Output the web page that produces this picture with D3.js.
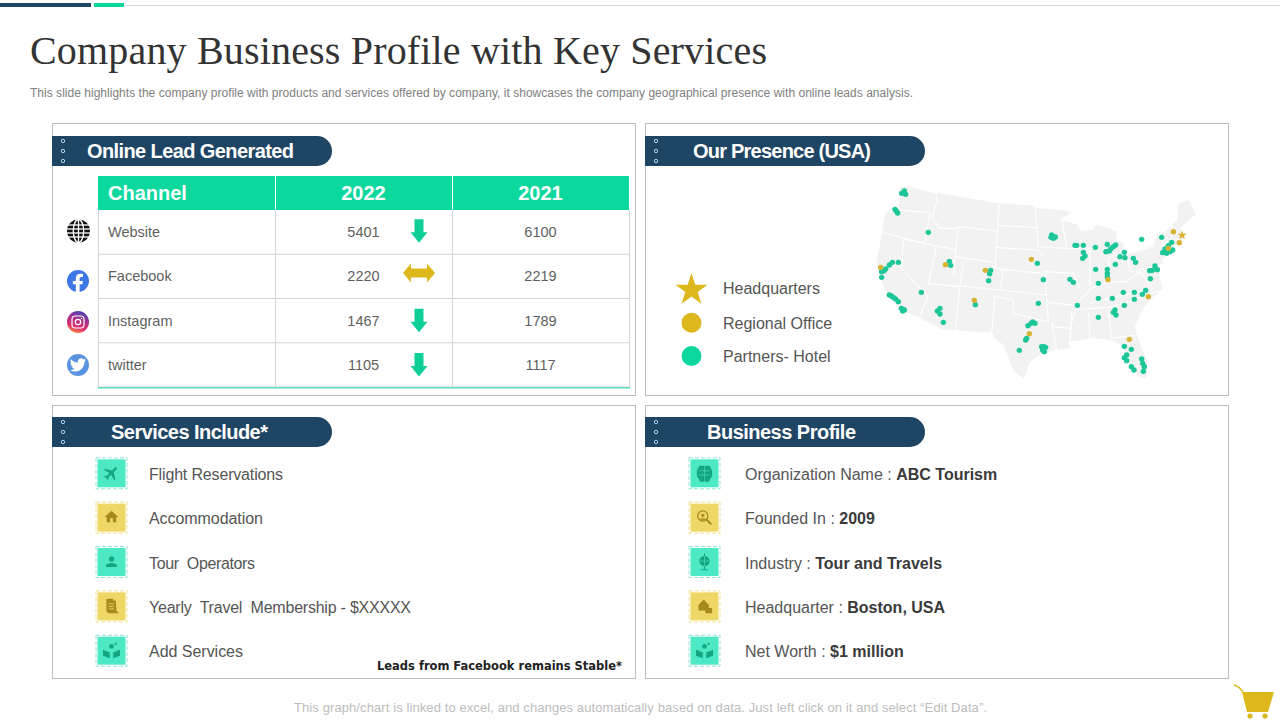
<!DOCTYPE html>
<html><head><meta charset="utf-8">
<script src="https://cdn.jsdelivr.net/npm/d3@7"></script>
<style>html,body{margin:0;background:#fff}svg{display:block}text{white-space:pre}</style>
</head><body><div id="c"></div>
<script>
const title="Company Business Profile with Key Services";
const subtitle="This slide highlights the company profile with products and services offered by company, it showcases the company geographical presence with online leads analysis.";
const footer="This graph/chart is linked to excel, and changes automatically based on data. Just left click on it and select “Edit Data”.";
const note="Leads from Facebook remains Stable*";
const tableHeads=["Channel","2022","2021"];
const channels=["Website","Facebook","Instagram","twitter"];
const leads2022=[5401,2220,1467,1105];
const leads2021=[6100,2219,1789,1117];
const trends=["down","flat","down","down"];
const services=["Flight Reservations","Accommodation","Tour  Operators","Yearly  Travel  Membership - $XXXXX","Add Services"];
const profileLabels=["Organization Name : ","Founded In : ","Industry : ","Headquarter : ","Net Worth : "];
const profileValues=["ABC Tourism","2009","Tour and Travels","Boston, USA","$1 million"];
const legendLabels=["Headquarters","Regional Office","Partners- Hotel"];
// map read on a 1050 x 645 grid laid over the reference map
const usOutline=[[118,38],[135,33],[225,55],[240,55],[415,85],[525,92],[530,100],[600,105],[635,112],[600,135],[650,148],[665,168],[700,165],[708,150],[745,158],[770,172],[768,195],[790,205],[793,232],[803,237],[880,210],[893,178],[915,170],[935,150],[952,138],[955,85],[985,75],[1008,118],[975,145],[962,160],[965,175],[975,185],[955,205],[935,222],[925,240],[910,250],[905,268],[893,270],[900,310],[908,340],[880,365],[850,400],[825,450],[830,480],[860,555],[860,610],[840,610],[815,575],[785,510],[750,495],[700,490],[625,500],[630,520],[590,525],[545,535],[510,562],[490,612],[460,585],[430,510],[405,490],[395,470],[340,470],[285,465],[245,462],[172,425],[118,403],[85,365],[62,315],[50,262],[65,180],[75,115],[100,95],[118,105]];
const stateLines=[
[[75,112],[110,105],[205,112]],[[228,55],[232,80],[215,125],[240,160],[295,160]],[[210,110],[195,205]],[[62,172],[195,205]],[[130,192],[290,225]],
[[295,155],[280,300]],[[295,155],[410,168]],[[285,245],[400,262]],[[418,85],[405,275]],[[415,152],[535,158]],[[410,218],[535,225],[550,245]],[[400,275],[430,283],[550,295]],
[[310,262],[300,332],[420,345],[430,285]],[[420,345],[560,360]],[[525,92],[535,215],[620,220]],[[550,290],[640,295],[660,340]],[[205,325],[300,335]],[[130,195],[125,280],[205,365],[180,420]],[[230,210],[205,325]],
[[300,335],[285,465]],[[405,360],[395,470]],[[405,365],[460,375],[460,415],[565,440]],[[555,295],[565,440]],[[565,382],[650,392]],[[650,392],[630,460]],[[575,455],[635,460]],[[575,440],[590,525]],
[[635,410],[630,500]],[[685,410],[690,490]],[[745,400],[755,490],[825,480]],[[640,405],[760,395],[905,345]],[[690,385],[880,340]],[[660,375],[695,340],[750,320],[800,320],[840,290]],
[[690,225],[690,330]],[[745,250],[750,320]],[[620,220],[695,220]],[[605,135],[620,220]],[[745,245],[800,235]],[[800,235],[810,290],[905,270]],[[805,235],[880,215]],[[840,290],[875,335]],[[905,215],[960,190]],[[915,170],[905,215]],[[935,150],[935,205]]];
const partnerX=[125,133,137,105,109,113,205,115,97,88,77,72,65,65,88,94,100,107,115,124,130,128,133,184,240,232,240,250,268,272,346,392,389,386,532,550,535,504,513,518,525,497,500,478,545,552,557,548,553,575,580,586,573,645,650,670,670,675,668,630,640,706,742,767,760,752,748,738,793,780,795,820,827,766,707,742,742,742,715,715,757,790,823,823,793,652,847,857,869,877,885,892,871,845,905,935,908,915,920,930,938,915,925,765,760,768,715,793,814,793,800,800,845,848,853,850,814,822];
const partnerY=[55,48,58,103,108,114,172,262,262,270,282,287,290,307,360,363,367,372,380,400,403,408,405,352,400,408,417,442,259,271,389,286,296,317,265,314,385,452,445,441,445,495,490,526,515,515,517,525,530,180,190,186,187,211,211,211,232,243,250,313,322,217,208,210,215,222,228,230,232,245,248,250,262,268,283,283,295,305,325,370,370,352,352,373,391,391,358,346,287,286,273,284,311,193,187,202,233,230,235,230,225,222,212,405,412,420,427,514,523,548,540,557,552,565,575,589,575,585];
const officeX=[62,256,343,376,514,508,744,865,808,925,940,958];
const officeY=[277,269,376,286,253,476,314,365,493,220,170,203];
const hqX=[966],hqY=[181];

const TEAL="#0cd89e",DOT="#1cc698",GOLD="#dcb81c",DOTGOLD="#d8b232",NAVY="#1f4564",INK="#444",SANS="'Liberation Sans',Arial,sans-serif";
const svg=d3.select("#c").append("svg").attr("width",1280).attr("height",720);
const defs=svg.append("defs");
const ig=defs.append("linearGradient").attr("id","ig").attr("x1",0).attr("y1",1).attr("x2",0.3).attr("y2",0);
[["0","#f9b233"],["35%","#e1306c"],["75%","#a1308f"],["100%","#5b3fae"]].forEach(d=>ig.append("stop").attr("offset",d[0]).attr("stop-color",d[1]));

function txt(p,x,y,s,o={}){const t=p.append("text").attr("x",x).attr("y",y).text(s)
 .attr("font-family",o.font||SANS).attr("font-size",o.size||16).attr("fill",o.fill||INK)
 .attr("font-weight",o.weight||400).attr("text-anchor",o.anchor||"start");
 if(o.len)t.attr("textLength",o.len).attr("lengthAdjust","spacing");return t;}

// top rule
svg.append("rect").attr("x",124).attr("y",5).attr("width",1156).attr("height",1).attr("fill","#d9d9d9");
svg.append("rect").attr("x",0).attr("y",3).attr("width",91).attr("height",4).attr("fill",NAVY);
svg.append("rect").attr("x",94).attr("y",3).attr("width",30).attr("height",4).attr("fill",TEAL);
txt(svg,30,64,title,{font:"'Liberation Serif',serif",size:40,fill:"#333",len:737});
txt(svg,30,97,subtitle,{size:12,fill:"#808080",len:883});
txt(svg,294,712,footer,{size:13,fill:"#bdbdbd",len:693});

// panels
const panels=[{x:52,y:123,h:272,t:"Online Lead Generated",tx:87,tl:207},{x:645,y:123,h:272,t:"Our Presence (USA)",tx:693,tl:178},{x:52,y:405,h:273,t:"Services Include*",tx:111,tl:157},{x:645,y:405,h:273,t:"Business Profile",tx:707,tl:149}];
panels.forEach((p,k)=>{
 svg.append("rect").attr("x",p.x+.5).attr("y",p.y+.5).attr("width",583).attr("height",p.h).attr("fill","#fff").attr("stroke","#bdbdbd");
 const py=p.y+(k<2?13:12);
 svg.append("path").attr("d",`M${p.x} ${py}H${p.x+265}a15 15 0 0 1 0 30H${p.x}Z`).attr("fill",NAVY);
 [5,15,25].forEach(d=>svg.append("circle").attr("cx",p.x+11).attr("cy",py+d).attr("r",1.7).attr("fill","none").attr("stroke","#bfe0ee").attr("stroke-width",.9));
 txt(svg,p.tx,py+22,p.t,{size:20,weight:700,fill:"#fff",len:p.tl});
});

// table
const colX=d3.scaleBand().domain(tableHeads).range([98,629]);
const rowY=d3.scaleBand().domain(channels).range([210,387]);
svg.append("rect").attr("x",98).attr("y",176).attr("width",531).attr("height",34).attr("fill",TEAL);
tableHeads.forEach((h,i)=>{
 if(i==0) txt(svg,108,200,h,{size:20,weight:700,fill:"#fff"});
 else txt(svg,colX(h)+colX.bandwidth()/2,200,h,{size:20,weight:700,fill:"#fff",anchor:"middle"});
});
const grid=svg.append("g").attr("stroke","#d4d4d4");
channels.forEach(c=>grid.append("line").attr("x1",98).attr("x2",629).attr("y1",rowY(c)+rowY.bandwidth()).attr("y2",rowY(c)+rowY.bandwidth()));
tableHeads.forEach(h=>grid.append("line").attr("x1",colX(h)+.5).attr("x2",colX(h)+.5).attr("y1",210).attr("y2",387));
grid.append("line").attr("x1",629.5).attr("x2",629.5).attr("y1",210).attr("y2",387);
svg.selectAll(".tb").data(tableHeads.slice(1)).join("line").attr("x1",d=>colX(d)+.5).attr("x2",d=>colX(d)+.5).attr("y1",176).attr("y2",210).attr("stroke","#fff");
svg.append("rect").attr("x",98).attr("y",387).attr("width",532).attr("height",1.5).attr("fill","#55dfbc");
const c2=colX("2022")+colX.bandwidth()/2,c3=colX("2021")+colX.bandwidth()/2;
const down="M-4.5 -11.5H4.5V1.5H8.5L0 12L-8.5 1.5H-4.5Z",flat="M-16 0L-8 -9.5V-4.5H8V-9.5L16 0L8 9.5V4.5H-8V9.5Z";
channels.forEach((c,i)=>{
 const m=rowY(c)+rowY.bandwidth()/2+(i>1?.7:i==1?.2:-.3);
 txt(svg,108,m+4.8,c,{size:14.5,fill:"#5f5f5f"});
 txt(svg,c2,m+4.8,leads2022[i],{size:14.5,fill:"#5f5f5f",anchor:"middle"});
 txt(svg,c3,m+4.8,leads2021[i],{size:14.5,fill:"#5f5f5f",anchor:"middle"});
 svg.append("path").attr("d",trends[i]=="flat"?flat:down).attr("transform",`translate(419,${trends[i]=="flat"?m-3.5:m-1})`).attr("fill",trends[i]=="flat"?GOLD:"#10cf96");
});
// social glyphs
(function(){
 const g=svg.append("g").attr("transform","translate(78.5,231)");
 g.append("circle").attr("r",11.5).attr("fill","#111");
 const l=g.append("g").attr("fill","none").attr("stroke","#fff").attr("stroke-width",1.3);
 l.append("ellipse").attr("rx",5.2).attr("ry",11.5);l.append("line").attr("y1",-11.5).attr("y2",11.5);
 [-6,-2,2,6].forEach(y=>{if(Math.abs(y)>=2)l.append("line").attr("x1",-12).attr("x2",12).attr("y1",y).attr("y2",y);});
 const f=svg.append("g").attr("transform","translate(78,281)");
 f.append("circle").attr("r",11).attr("fill","#3f78e6");
 f.append("path").attr("d","M1.6 11V3.2H4.4L4.9 0H1.6V-2.2C1.6 -3.3 2.1 -4 3.4 -4H5V-6.9C3.9 -7.1 3 -7.2 2.3 -7.2C-0.6 -7.2 -2.2 -5.4 -2.2 -2.6V0H-5.1V3.2H-2.2V11Z").attr("fill","#fff");
 const n=svg.append("g").attr("transform","translate(78,322)");
 n.append("circle").attr("r",11).attr("fill","url(#ig)");
 n.append("rect").attr("x",-6).attr("y",-6).attr("width",12).attr("height",12).attr("rx",3.2).attr("fill","none").attr("stroke","#fff").attr("stroke-width",1.2);
 n.append("circle").attr("r",2.7).attr("fill","none").attr("stroke","#fff").attr("stroke-width",1.2);
 n.append("circle").attr("cx",3.5).attr("cy",-3.5).attr("r",.8).attr("fill","#fff");
 const t=svg.append("g").attr("transform","translate(78,365)");
 t.append("circle").attr("r",11).attr("fill","#5a94e0");
 t.append("path").attr("transform","translate(-8.2,-8.2) scale(.68)").attr("fill","#fff").attr("d","M23.953 4.57a10 10 0 01-2.825.775 4.958 4.958 0 002.163-2.723c-.951.555-2.005.959-3.127 1.184a4.92 4.92 0 00-8.384 4.482C7.69 8.095 4.067 6.13 1.64 3.162a4.822 4.822 0 00-.666 2.475c0 1.71.87 3.213 2.188 4.096a4.904 4.904 0 01-2.228-.616v.06a4.923 4.923 0 003.946 4.827 4.996 4.996 0 01-2.212.085 4.936 4.936 0 004.604 3.417 9.867 9.867 0 01-6.102 2.105c-.39 0-.779-.023-1.17-.067a13.995 13.995 0 007.557 2.209c9.053 0 13.998-7.496 13.998-13.985 0-.21 0-.42-.015-.63A9.935 9.935 0 0024 4.59z");
})();

// map
const mx=d3.scaleLinear().domain([0,1050]).range([860,1210]);
const my=d3.scaleLinear().domain([0,645]).range([175,390]);
const line=d3.line().x(d=>mx(d[0])).y(d=>my(d[1]));
svg.append("path").attr("d",line(usOutline)+"Z").attr("fill","#f2f2f2");
svg.append("g").selectAll("path").data(stateLines).join("path").attr("d",line).attr("fill","none").attr("stroke","#fff").attr("stroke-width",1.1);
svg.append("g").selectAll("circle").data(partnerX).join("circle").attr("cx",d=>mx(d)).attr("cy",(d,i)=>my(partnerY[i])).attr("r",2.7).attr("fill",DOT);
svg.append("g").selectAll("circle").data(officeX).join("circle").attr("cx",d=>mx(d)).attr("cy",(d,i)=>my(officeY[i])).attr("r",2.7).attr("fill",DOTGOLD);
const star=d3.symbol().type(d3.symbolStar);
svg.append("g").selectAll("path").data(hqX).join("path").attr("d",star.size(28)()).attr("transform",(d,i)=>`translate(${mx(d)},${my(hqY[i])})`).attr("fill",DOTGOLD);

// legend
const legY=d3.scalePoint().domain(legendLabels).range([289,357]);
const legMarks=[d3.symbol().type(d3.symbolStar).size(320)(),null,null];
legendLabels.forEach((l,i)=>{
 if(i==0)svg.append("path").attr("d",legMarks[0]).attr("transform",`translate(691.5,${legY(l)+1})`).attr("fill",GOLD);
 else svg.append("circle").attr("cx",691.5).attr("cy",legY(l)-(i==1?.3:1)).attr("r",10).attr("fill",i==1?GOLD:TEAL);
 txt(svg,723,legY(l)+6-(i==1?.5:1),l,{size:16,fill:"#555"});
});

// icon glyphs
const P={
 plane:g=>g.append("path").attr("transform","rotate(45) translate(-10.8,-10.8) scale(.9)").attr("d","M21 16v-2l-8-5V3.5c0-.83-.67-1.5-1.5-1.5S10 2.67 10 3.5V9l-8 5v2l8-2.5V19l-2 1.5V22l3.5-1 3.5 1v-1.5L13 19v-5.5l8 2.5z"),
 house:g=>g.append("path").attr("transform","translate(-9.6,-10.5) scale(.8)").attr("d","M10 20v-6h4v6h5v-8h3L12 3 2 12h3v8z"),
 person:g=>g.append("path").attr("transform","translate(-9.6,-10) scale(.8)").attr("d","M12 12c2.21 0 4-1.79 4-4s-1.79-4-4-4-4 1.79-4 4 1.79 4 4 4zm0 2c-2.67 0-8 1.34-8 4v2h16v-2c0-2.66-5.33-4-8-4z"),
 clip:g=>{g.append("path").attr("d","M-6 -9H2V-7H5L6 6H8V8H-3C-5 8 -6 6 -6 5Z");g.append("path").attr("d","M-3.5 -3H3M-3.5 0H3M-3.5 3H3").attr("stroke","#efd765").attr("fill","none");},
 hands:g=>{g.append("circle").attr("cy",-5).attr("r",2.8);g.append("path").attr("d","M-10 -1L-2 2V9L-10 6ZM10 -1L2 2V9L10 6Z");g.append("circle").attr("cx",5).attr("cy",-8).attr("r",1.3);},
 head:g=>{g.append("path").attr("d","M-6 -9H6L9 -3V3L5 10H-5L-9 3V-3Z");g.append("path").attr("d","M-6 -3H6M-7 2H7M0 -9V10").attr("stroke","#4de8c4").attr("stroke-width",.7).attr("fill","none");},
 lens:g=>{g.append("circle").attr("cx",-2).attr("cy",-2).attr("r",6).attr("fill","none").attr("stroke-width",1.5).attr("stroke","currentColor");g.append("circle").attr("cx",-2).attr("cy",-2.8).attr("r",1.9);g.append("path").attr("d","M-6 2.5C-5 0 1 0 2 2.5Z");g.append("path").attr("d","M2.5 2.5L8 8").attr("stroke","currentColor").attr("stroke-width",2.2);},
 globe:g=>{g.append("circle").attr("cy",-1).attr("r",6);g.append("path").attr("d","M-4 9H4M0 5V9M0 -10V-7").attr("stroke","currentColor").attr("stroke-width",1.2);g.append("path").attr("d","M-6 -1H6M0 -7V5").attr("stroke","#4de8c4").attr("stroke-width",.7);},
 hq:g=>{g.append("path").attr("d","M-7 5V-2L-1 -8L5 -2V2H9V8H1V5Z");}
};
const rowPts=d3.scalePoint().domain(d3.range(5)).range([473.3,650.7]);
function badge(x,i,glyph){
 const cols=i%2==0?["#4de8c4","#8fe6d6","#14a582"]:["#efd765","#f4e08c","#a68a1a"];
 const y=rowPts(i);
 svg.append("rect").attr("x",x-14).attr("y",y-14).attr("width",28).attr("height",28).attr("fill",cols[0]);
 svg.append("rect").attr("x",x-15.5).attr("y",y-15.5).attr("width",31).attr("height",31).attr("fill","none").attr("stroke",cols[1]).attr("stroke-dasharray","4 2");
 const g=svg.append("g").attr("transform",`translate(${x},${y}) scale(.85)`).attr("fill",cols[2]).attr("color",cols[2]);
 P[glyph](g);
}
const serviceGlyphs=["plane","house","person","clip","hands"];
const profileGlyphs=["head","lens","globe","hq","hands"];
const serviceLens=[134,114,106,262,94];
services.forEach((s,i)=>{badge(111.5,i,serviceGlyphs[i]);txt(svg,149,rowPts(i)+6.6,s,{size:16,fill:"#555",len:serviceLens[i]});});
profileLabels.forEach((s,i)=>{
 badge(704.5,i,profileGlyphs[i]);
 const t=txt(svg,745,rowPts(i)+6.6,s,{size:16,fill:"#555"});
 t.append("tspan").text(profileValues[i]).attr("font-weight",700).attr("fill","#3a3a3a");
});
txt(svg,377,670,note,{font:"'DejaVu Sans',sans-serif",size:11.5,weight:700,fill:"#222",len:245});

// cart
const cart=svg.append("g").attr("fill",GOLD);
cart.append("path").attr("d","M1242 692H1274L1268 712H1247Z");
cart.append("path").attr("d","M1234 685C1238 686 1241 688 1243 693").attr("fill","none").attr("stroke",GOLD).attr("stroke-width",1.5);
[1250,1265].forEach(x=>cart.append("circle").attr("cx",x).attr("cy",716).attr("r",2.6));
</script></body></html>
